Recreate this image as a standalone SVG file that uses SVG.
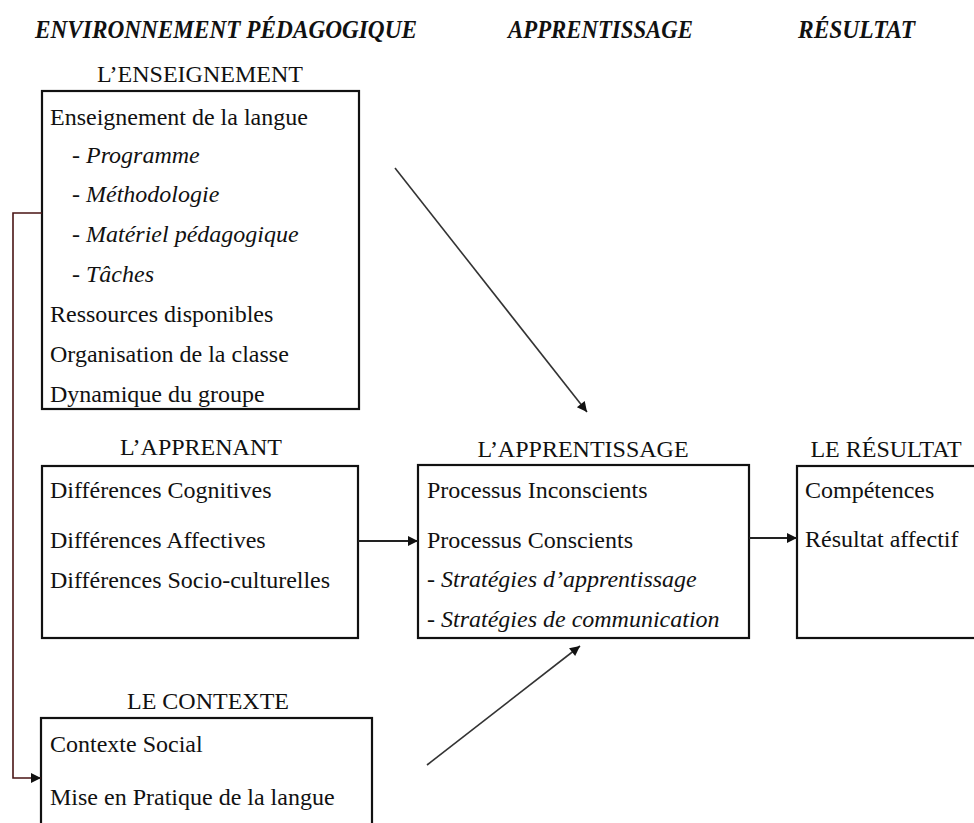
<svg xmlns="http://www.w3.org/2000/svg" width="974" height="823" viewBox="0 0 974 823">
<style>
  .bg{fill:#fff}
  .box{fill:none;stroke:#111;stroke-width:2.2}
  .t{font-family:"Liberation Serif","Times New Roman",serif;font-size:24px;fill:#111}
  .i{font-style:italic}
  .h{font-family:"Liberation Serif","Times New Roman",serif;font-size:26px;font-style:italic;font-weight:bold;fill:#111}
  .ttl{font-family:"Liberation Serif","Times New Roman",serif;font-size:24px;fill:#111;text-anchor:middle}
  .c{fill:none;stroke:#222;stroke-width:2}
  .d{fill:none;stroke:#333;stroke-width:1.6}
  .r{fill:none;stroke:#4a1515;stroke-width:1.6}
</style>
<defs>
  <marker id="ah" viewBox="0 0 10 10" refX="10" refY="5" markerWidth="12" markerHeight="10" markerUnits="userSpaceOnUse" orient="auto">
    <path d="M0,0 L10,5 L0,10 Z" fill="#111"/>
  </marker>
</defs>
<rect class="bg" x="0" y="0" width="974" height="823"/>

<g id="headers">
  <text class="h" x="35" y="38" textLength="382" lengthAdjust="spacingAndGlyphs">ENVIRONNEMENT PÉDAGOGIQUE</text>
  <text class="h" x="508" y="38" textLength="185" lengthAdjust="spacingAndGlyphs">APPRENTISSAGE</text>
  <text class="h" x="798" y="38" textLength="117" lengthAdjust="spacingAndGlyphs">RÉSULTAT</text>
</g>

<g id="enseignement">
  <text class="ttl" x="200" y="82">L’ENSEIGNEMENT</text>
  <rect class="box" x="42" y="91" width="317" height="318"/>
  <text class="t" x="50" y="125">Enseignement de la langue</text>
  <text class="t i" x="72" y="163">- Programme</text>
  <text class="t i" x="72" y="202">- Méthodologie</text>
  <text class="t i" x="72" y="242">- Matériel pédagogique</text>
  <text class="t i" x="72" y="282">- Tâches</text>
  <text class="t" x="50" y="322">Ressources disponibles</text>
  <text class="t" x="50" y="362">Organisation de la classe</text>
  <text class="t" x="50" y="402">Dynamique du groupe</text>
</g>

<g id="apprenant">
  <text class="ttl" x="201" y="455">L’APPRENANT</text>
  <rect class="box" x="42" y="466" width="316" height="172"/>
  <text class="t" x="50" y="498">Différences Cognitives</text>
  <text class="t" x="50" y="548">Différences Affectives</text>
  <text class="t" x="50" y="588">Différences Socio-culturelles</text>
</g>

<g id="apprentissage">
  <text class="ttl" x="583" y="457">L’APPRENTISSAGE</text>
  <rect class="box" x="418" y="465" width="331" height="173"/>
  <text class="t" x="427" y="498">Processus Inconscients</text>
  <text class="t" x="427" y="548">Processus Conscients</text>
  <text class="t i" x="427" y="587">- Stratégies d’apprentissage</text>
  <text class="t i" x="427" y="627">- Stratégies de communication</text>
</g>

<g id="resultat">
  <text class="ttl" x="886" y="457">LE RÉSULTAT</text>
  <rect class="box" x="797" y="466" width="200" height="172"/>
  <text class="t" x="805" y="498">Compétences</text>
  <text class="t" x="805" y="547">Résultat affectif</text>
</g>

<g id="contexte">
  <text class="ttl" x="208" y="709">LE CONTEXTE</text>
  <rect class="box" x="41" y="718" width="331" height="130"/>
  <text class="t" x="50" y="752">Contexte Social</text>
  <text class="t" x="50" y="805">Mise en Pratique de la langue</text>
</g>

<g id="connectors">
  <line class="d" x1="395" y1="168" x2="587" y2="412" marker-end="url(#ah)"/>
  <line class="d" x1="427" y1="765" x2="580" y2="646" marker-end="url(#ah)"/>
  <line class="c" x1="358" y1="541" x2="418" y2="541" marker-end="url(#ah)"/>
  <line class="c" x1="749" y1="538" x2="797" y2="538" marker-end="url(#ah)"/>
  <polyline class="r" points="42,213 13,213 13,778 41,778" marker-end="url(#ah)"/>
</g>
</svg>
